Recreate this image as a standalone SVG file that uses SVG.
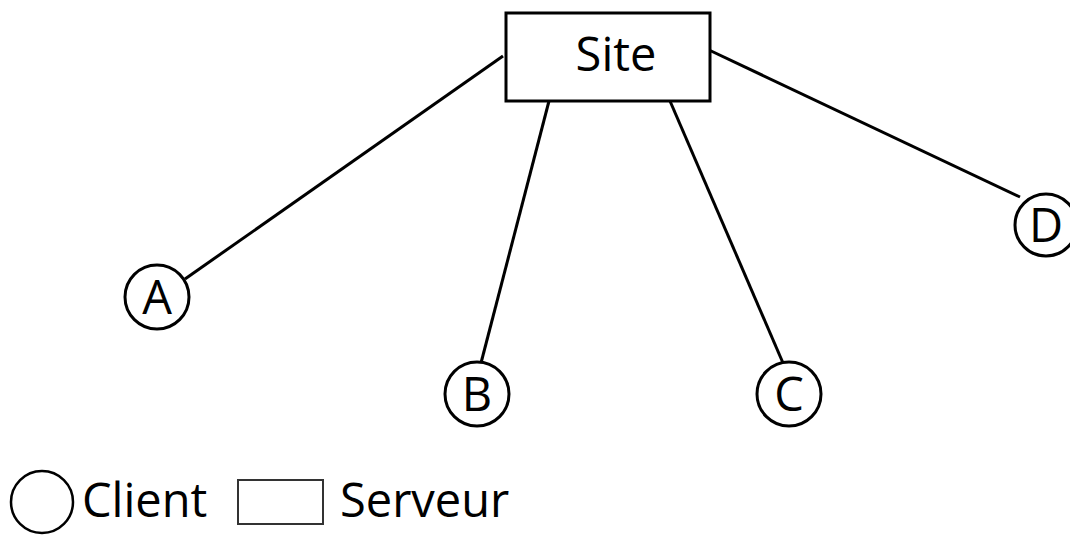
<svg xmlns="http://www.w3.org/2000/svg" width="1070" height="536" viewBox="0 0 1070 536">
<style>
.edge{stroke:#000;stroke-width:3;fill:none}
.client{fill:#fff;stroke:#000;stroke-width:3}
.lbl{font-family:"Open Sans",sans-serif;font-size:47px;fill:#000;text-anchor:middle}
.leg{font-family:"Open Sans",sans-serif;font-size:47px;fill:#000}
</style>
<rect width="1070" height="536" fill="#fff"/>
<g id="connectors">
<line class="edge" x1="503" y1="56" x2="185" y2="279"/>
<line class="edge" x1="549" y1="101" x2="481" y2="363"/>
<line class="edge" x1="670" y1="101" x2="783" y2="363"/>
<line class="edge" x1="709" y1="50" x2="1020" y2="197"/>
</g>
<g id="site">
<rect x="506" y="13" width="204" height="88" fill="#fff" stroke="#000" stroke-width="3"/>
<text class="lbl" x="616" y="71">Site</text>
</g>
<g id="A">
<circle class="client" cx="157" cy="297" r="32"/>
<text class="lbl" x="157" y="314">A</text>
</g>
<g id="B">
<circle class="client" cx="477" cy="394" r="32"/>
<text class="lbl" x="477" y="411">B</text>
</g>
<g id="C">
<circle class="client" cx="789" cy="394" r="32"/>
<text class="lbl" x="789" y="411">C</text>
</g>
<g id="D">
<circle class="client" cx="1046" cy="225" r="31"/>
<text class="lbl" x="1046" y="242">D</text>
</g>
<g id="legend">
<circle cx="42" cy="502" r="31" fill="none" stroke="#000" stroke-width="2.5"/>
<text class="leg" x="82" y="517">Client</text>
<rect x="238" y="480" width="85" height="44" fill="none" stroke="#333" stroke-width="2"/>
<text class="leg" x="340" y="517">Serveur</text>
</g>
</svg>
